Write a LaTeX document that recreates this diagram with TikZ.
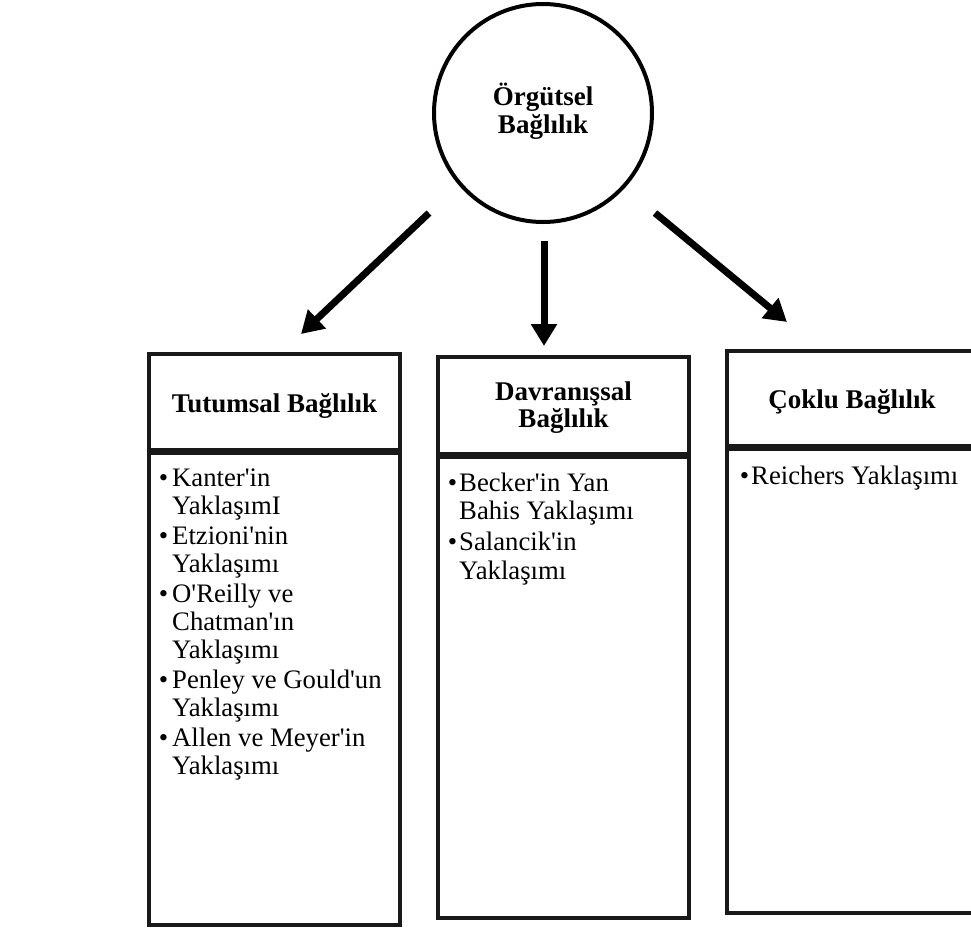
\documentclass[tikz,border=0pt]{standalone}
\usepackage{fontspec}
\setmainfont{Liberation Serif}
\usetikzlibrary{arrows.meta}
\newcommand{\aps}{\textquotesingle}
\begin{document}
\begin{tikzpicture}[x=1pt,y=-1pt,
  boxline/.style={draw=black!90, line width=4pt},
  conn/.style={draw=black, line width=7pt, -{Triangle[length=22pt,width=25pt]}},
  hdr/.style={font=\bfseries\fontsize{27}{28}\selectfont, inner sep=0pt, anchor=base},
  itm/.style={font=\fontsize{26.7}{28}\selectfont, inner sep=0pt, anchor=base west},
  bul/.style={font=\fontsize{26.7}{28}\selectfont, inner sep=0pt, anchor=base},
]
\useasboundingbox (0,0) rectangle (971,930);
\fill[white] (0,0) rectangle (971,930);

% root circle
\node[draw=black, circle, line width=4pt, minimum size=218pt, inner sep=0pt] (root) at (543,113) {};
\node[hdr] (r1) at (543,105) {Örgütsel};
\node[hdr] (r2) at (543,133) {Bağlılık};

% arrows
\coordinate (a1s) at (429,213); \coordinate (a1e) at (301,334);
\coordinate (a2s) at (544,241); \coordinate (a2e) at (544,346);
\coordinate (a3s) at (655,213); \coordinate (a3e) at (787,322);
\draw[conn] (a1s) -- (a1e);
\draw[conn] (a2s) -- (a2e);
\draw[conn] (a3s) -- (a3e);

% left box
\draw[boxline] (149,354) rectangle (400,450);
\draw[boxline] (149,453) rectangle (400,925);
\node[hdr] (h1) at (274.5,412) {Tutumsal Bağlılık};
\node[bul] (b1a) at (163.5,486) {•};
\node[itm] (t1a) at (172,486) {Kanter\aps in};
\node[itm] (t1b) at (172,514) {YaklaşımI};
\node[bul] (b1b) at (163.5,544) {•};
\node[itm] (t1c) at (172,544) {Etzioni\aps nin};
\node[itm] (t1d) at (172,572) {Yaklaşımı};
\node[bul] (b1c) at (163.5,602) {•};
\node[itm] (t1e) at (172,602) {O\aps Reilly ve};
\node[itm] (t1f) at (172,630) {Chatman\aps ın};
\node[itm] (t1g) at (172,658) {Yaklaşımı};
\node[bul] (b1d) at (163.5,688) {•};
\node[itm] (t1h) at (172,688) {Penley ve Gould\aps un};
\node[itm] (t1i) at (172,716) {Yaklaşımı};
\node[bul] (b1e) at (163.5,746) {•};
\node[itm] (t1j) at (172,746) {Allen ve Meyer\aps in};
\node[itm] (t1k) at (172,774) {Yaklaşımı};

% middle box
\draw[boxline] (438,357) rectangle (689,454);
\draw[boxline] (438,457) rectangle (689,918);
\node[hdr] (h2a) at (563.5,400) {Davranışsal};
\node[hdr] (h2b) at (563.5,427) {Bağlılık};
\node[bul] (b2a) at (452.5,491) {•};
\node[itm] (t2a) at (459,491) {Becker\aps in Yan};
\node[itm] (t2b) at (459,519) {Bahis Yaklaşımı};
\node[bul] (b2b) at (452.5,550) {•};
\node[itm] (t2c) at (459,550) {Salancik\aps in};
\node[itm] (t2d) at (459,579) {Yaklaşımı};

% right box
\draw[boxline] (727,351) rectangle (980,446);
\draw[boxline] (727,449) rectangle (980,913);
\node[hdr] (h3) at (852,408) {Çoklu Bağlılık};
\node[bul] (b3a) at (744.5,484) {•};
\node[itm] (t3a) at (751,484) {Reichers Yaklaşımı};
\end{tikzpicture}
\end{document}
